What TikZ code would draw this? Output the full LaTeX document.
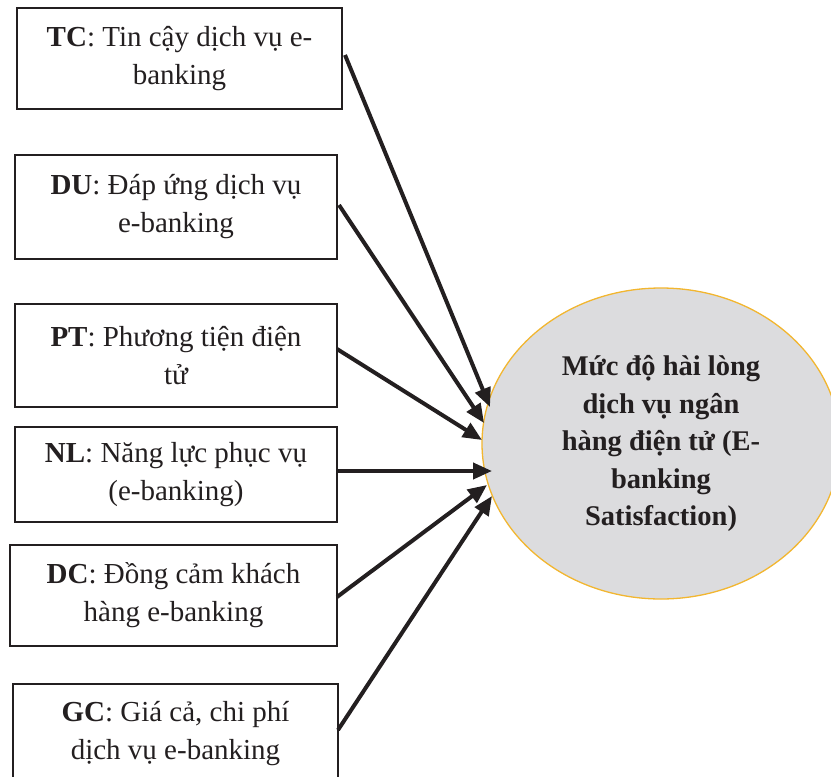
\documentclass[tikz,border=0pt]{standalone}
\usepackage{fontspec}
\setmainfont{Liberation Serif}
\usetikzlibrary{arrows.meta}
\usetikzlibrary{shapes.geometric}
\definecolor{ink}{HTML}{231F20}
\definecolor{ellfill}{HTML}{DCDCDE}
\definecolor{ellline}{HTML}{F2B630}
\tikzset{
  factor/.style={draw=ink, line width=2.6pt, inner sep=0pt, align=center,
    font=\fontsize{29}{38}\selectfont, text=ink},
  link/.style={draw=ink, line width=4pt,
    -{Triangle[length=19pt,width=16pt]}, shorten >=0pt},
  outcome/.style={ellipse, draw=ellline, fill=ellfill, line width=1.3pt,
    inner sep=0pt, align=center, font=\bfseries\fontsize{28.5}{37.5}\selectfont, text=ink}
}
\begin{document}
\begin{tikzpicture}[x=1pt,y=-1pt]
\useasboundingbox (0,0) rectangle (831,777);
\clip (0,0) rectangle (831,777);
% outcome ellipse
\node[outcome, minimum width=358pt, minimum height=311pt] (E) at (661,443.5)
  {Mức độ hài lòng\\dịch vụ ngân\\hàng điện tử (E-\\banking\\Satisfaction)};
% factor boxes
\node[factor, minimum width=325pt, minimum height=101pt] (TC) at (179.5,58.5)
  {\textbf{TC}: Tin cậy dịch vụ e-\\banking};
\node[factor, minimum width=322pt, minimum height=104pt] (DU) at (176,207)
  {\textbf{DU}: Đáp ứng dịch vụ\\e-banking};
\node[factor, minimum width=322pt, minimum height=103pt] (PT) at (176,355.5)
  {\textbf{PT}: Phương tiện điện\\tử};
\node[factor, minimum width=322pt, minimum height=95pt] (NL) at (176,474.5)
  {\textbf{NL}: Năng lực phục vụ\\(e-banking)};
\node[factor, minimum width=327pt, minimum height=101pt] (DC) at (173.5,595.5)
  {\textbf{DC}: Đồng cảm khách\\hàng e-banking};
\node[factor, minimum width=325pt, minimum height=100pt] (GC) at (175.5,734)
  {\textbf{GC}: Giá cả, chi phí\\dịch vụ e-banking};
% arrow start/end points
\coordinate (s1) at (345,55);
\coordinate (s2) at (339,205);
\coordinate (s3) at (337,349);
\coordinate (s4) at (337,471);
\coordinate (s5) at (337,597);
\coordinate (s6) at (338,730);
\coordinate (t1) at (490,407);
\coordinate (t2) at (484,423);
\coordinate (t3) at (482,440);
\coordinate (t4) at (492,471);
\coordinate (t5) at (487,485);
\coordinate (t6) at (492,496);
\draw[link] (s1) -- (t1);
\draw[link] (s2) -- (t2);
\draw[link] (s3) -- (t3);
\draw[link] (s4) -- (t4);
\draw[link] (s5) -- (t5);
\draw[link] (s6) -- (t6);
\end{tikzpicture}
\end{document}
